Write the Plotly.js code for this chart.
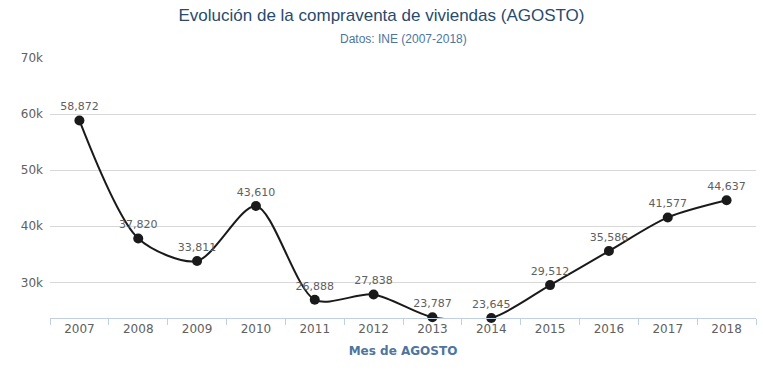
<!DOCTYPE html>
<html>
<head>
<meta charset="utf-8">
<script src="https://cdn.plot.ly/plotly-3.0.1.min.js"></script>
<style>html,body{margin:0;padding:0;background:#fff;}#chart{width:763px;height:371px;}</style>
</head>
<body>
<div id="chart"></div>
<script>
const years = ["2007","2008","2009","2010","2011","2012","2013","2014","2015","2016","2017","2018"];
const ventas = [58872, 37820, 33811, 43610, 26888, 27838, 23787, 23645, 29512, 35586, 41577, 44637];
const yTicks = [30000, 40000, 50000, 60000, 70000];
const yTickText = ["30k", "40k", "50k", "60k", "70k"];

const trace = {
  x: years,
  y: ventas,
  type: "scatter",
  mode: "lines+markers+text",
  line: {color: "#1a1a1a", width: 2, shape: "spline", smoothing: 0.8},
  marker: {color: "#1a1a1a", size: 10},
  texttemplate: "%{y:,}",
  textposition: "top center",
  textfont: {family: "DejaVu Sans", size: 11, color: "#606060"},
  cliponaxis: false,
  hoverinfo: "x+y"
};

const layout = {
  width: 763,
  height: 371,
  margin: {l: 50, r: 7, t: 58, b: 53},
  paper_bgcolor: "#ffffff",
  plot_bgcolor: "#ffffff",
  showlegend: false,
  title: {
    text: "Evolución de la compraventa de viviendas (AGOSTO)",
    font: {family: "Liberation Sans, Arial, sans-serif", size: 17, color: "#274b6d"},
    x: 0.5, xanchor: "center", y: 0.96, yanchor: "middle", yref: "container"
  },
  annotations: [
    {text: "Datos: INE (2007-2018)", xref: "paper", yref: "paper", x: 0.5, y: 1.0, yshift: 19,
     xanchor: "center", yanchor: "middle", showarrow: false,
     font: {family: "Liberation Sans, Arial, sans-serif", size: 12, color: "#4d759e"}}
  ],
  xaxis: {
    type: "category",
    tickson: "boundaries",
    ticks: "outside",
    ticklen: 6,
    tickcolor: "#c0d0e0",
    tickwidth: 1,
    showline: true,
    linecolor: "#c0d0e0",
    linewidth: 1,
    showgrid: false,
    zeroline: false,
    tickfont: {family: "DejaVu Sans", size: 12, color: "#606060"},
    title: {text: "<b>Mes de AGOSTO</b>", font: {family: "DejaVu Sans", size: 12, color: "#4d759e"}, standoff: 11},
    range: [-0.5, 11.5]
  },
  yaxis: {
    range: [23645, 70000],
    tickvals: yTicks,
    ticktext: yTickText,
    showgrid: true,
    gridcolor: "#d8d8d8",
    gridwidth: 1,
    zeroline: false,
    showline: false,
    ticks: "",
    ticklabelstandoff: 6,
    tickfont: {family: "DejaVu Sans", size: 12, color: "#606060"}
  }
};

Plotly.newPlot("chart", [trace], layout, {displayModeBar: false, staticPlot: true});
</script>
</body>
</html>
